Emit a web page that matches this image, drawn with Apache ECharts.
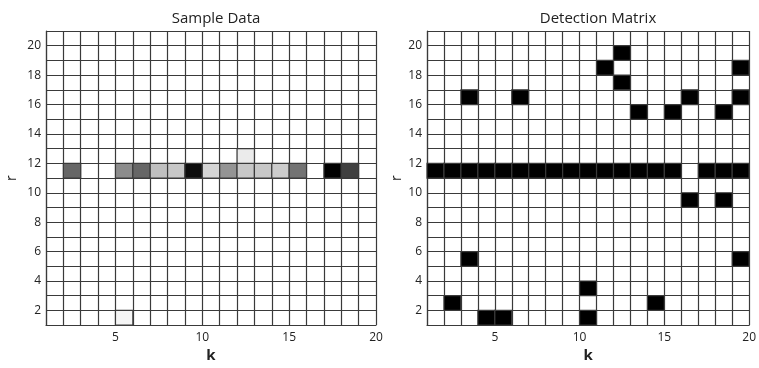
<!DOCTYPE html>
<html>
<head>
<meta charset="utf-8">
<script src="https://cdn.jsdelivr.net/npm/echarts@6/dist/echarts.min.js"></script>
<style>
  html, body { margin: 0; padding: 0; background: #fff; }
  #chart { width: 759px; height: 368px; }
</style>
</head>
<body>
<div id="chart"></div>
<script>
// 网格范围：k 从 1 到 20（19 列），r 从 1 到 21（20 行）
const kRange = [1, 20];
const rRange = [1, 21];
const kTicks = [5, 10, 15, 20];
const rTicks = [2, 4, 6, 8, 10, 12, 14, 16, 18, 20];

// Sample Data：第 11 行的灰度（0 = 白，1 = 黑），k = 1..19
const sampleRow = 11;
const sampleBand = [0, 0.6, 0, 0, 0.45, 0.6, 0.25, 0.22, 0.95, 0.17, 0.42, 0.22, 0.22, 0.2, 0.55, 0, 1, 0.75, 0];
// 其它很淡的格子 [k, r, 灰度]
const sampleFaint = [[12, 12, 0.08], [5, 1, 0.04]];

// Detection Matrix：第 11 行中黑色的 k
const detectionRow = 11;
const detectionBandK = [1, 2, 3, 4, 5, 6, 7, 8, 9, 10, 11, 12, 13, 14, 15, 17, 18, 19];
// 其它黑色格子 [k, r]
const detectionCells = [
  [12, 19], [11, 18], [12, 17], [19, 18],
  [3, 16], [6, 16], [16, 16], [19, 16],
  [13, 15], [15, 15], [18, 15],
  [16, 9], [18, 9],
  [3, 5], [19, 5],
  [10, 3], [2, 2], [14, 2],
  [4, 1], [5, 1], [10, 1]
];

const lineColor = '#3a3a3a';
const textColor = '#222';
const fontFamily = 'Open Sans';

const sampleData = sampleBand
  .map((v, i) => [i + 1, sampleRow, v])
  .filter(d => d[2] > 0)
  .concat(sampleFaint);

const detectionData = detectionBandK
  .map(k => [k, detectionRow, 1])
  .concat(detectionCells.map(c => [c[0], c[1], 1]));

// 每个格子占 [k, k+1] x [r, r+1]
const renderCell = (params, api) => {
  const k = api.value(0);
  const r = api.value(1);
  const v = api.value(2);
  const p0 = api.coord([k, r + 1]);
  const p1 = api.coord([k + 1, r]);
  const g = Math.round(255 * (1 - v));
  return {
    type: 'rect',
    shape: { x: p0[0], y: p0[1], width: p1[0] - p0[0], height: p1[1] - p0[1] },
    style: { fill: `rgb(${g},${g},${g})`, stroke: lineColor, lineWidth: 1.2 }
  };
};

const makeXAxis = (gridIndex) => ({
  type: 'value',
  gridIndex,
  min: kRange[0],
  max: kRange[1],
  interval: 1,
  name: 'k',
  nameLocation: 'middle',
  nameGap: 20,
  nameTextStyle: { fontFamily, fontSize: 15, fontWeight: 'bold', color: textColor },
  axisLine: { show: true, lineStyle: { color: lineColor, width: 1.2 } },
  axisTick: { show: false },
  axisLabel: {
    fontFamily, fontSize: 12, color: textColor, margin: 6,
    formatter: v => (kTicks.includes(v) ? String(v) : '')
  },
  splitLine: { show: true, lineStyle: { color: lineColor, width: 1.2 } }
});

const makeYAxis = (gridIndex, nameGap) => ({
  type: 'value',
  gridIndex,
  min: rRange[0],
  max: rRange[1],
  interval: 1,
  name: 'r',
  nameLocation: 'middle',
  nameRotate: 90,
  nameGap,
  nameTextStyle: { fontFamily, fontSize: 14, color: textColor },
  axisLine: { show: true, lineStyle: { color: lineColor, width: 1.2 } },
  axisTick: { show: false },
  axisLabel: {
    fontFamily, fontSize: 12, color: textColor, margin: 5,
    formatter: v => (rTicks.includes(v) ? String(v) : '')
  },
  splitLine: { show: true, lineStyle: { color: lineColor, width: 1.2 } }
});

const option = {
  backgroundColor: '#fff',
  animation: false,
  title: [
    {
      text: 'Sample Data', left: 211, top: 6, textAlign: 'center',
      textStyle: { fontFamily, fontSize: 15, fontWeight: 'normal', color: textColor }
    },
    {
      text: 'Detection Matrix', left: 593, top: 6, textAlign: 'center',
      textStyle: { fontFamily, fontSize: 15, fontWeight: 'normal', color: textColor }
    }
  ],
  grid: [
    { left: 46, right: 383, top: 31, bottom: 28 },
    { left: 427, right: 4, top: 31, bottom: 27 }
  ],
  xAxis: [makeXAxis(0), makeXAxis(1)],
  yAxis: [makeYAxis(0, 27), makeYAxis(1, 23)],
  series: [
    {
      type: 'custom',
      xAxisIndex: 0,
      yAxisIndex: 0,
      renderItem: renderCell,
      encode: { x: 0, y: 1 },
      data: sampleData
    },
    {
      type: 'custom',
      xAxisIndex: 1,
      yAxisIndex: 1,
      renderItem: renderCell,
      encode: { x: 0, y: 1 },
      data: detectionData
    }
  ]
};

const myChart = echarts.init(document.getElementById('chart'));
myChart.setOption(option);
</script>
</body>
</html>
